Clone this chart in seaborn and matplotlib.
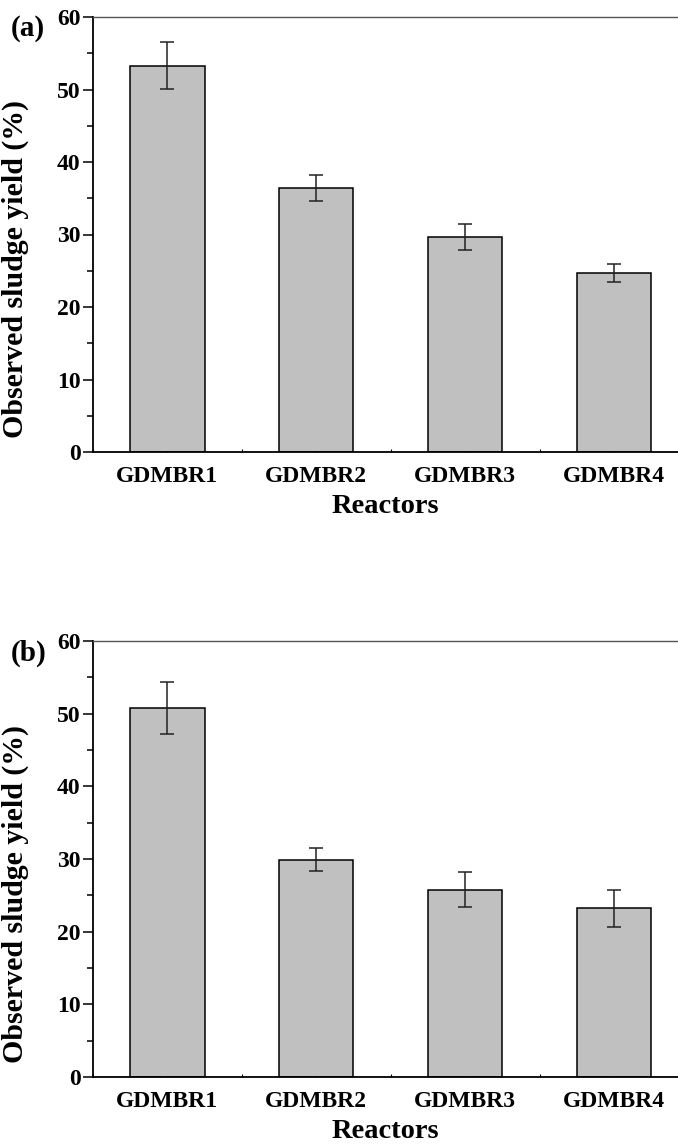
import matplotlib
matplotlib.use("Agg")
import matplotlib.pyplot as plt
import seaborn as sns
import pandas as pd
from matplotlib.ticker import MultipleLocator

reactors = ["GDMBR1", "GDMBR2", "GDMBR3", "GDMBR4"]
yield_a = [53.3, 36.4, 29.6, 24.7]
err_a = [3.2, 1.75, 1.8, 1.3]
yield_b = [50.8, 29.9, 25.8, 23.2]
err_b = [3.6, 1.6, 2.4, 2.5]
panel_labels = ["(a)", "(b)"]
y_ticks = [0, 10, 20, 30, 40, 50, 60]

sns.set_theme(style="ticks")
plt.rcParams["font.family"] = ["Liberation Serif", "DejaVu Serif"]
plt.rcParams["font.weight"] = "bold"
for k in ["text.color", "axes.labelcolor", "xtick.color", "ytick.color"]:
    plt.rcParams[k] = "black"

fig = plt.figure(figsize=(6.78, 11.44), dpi=100)
W, H = 678, 1144
boxes = [(93, 17, 452), (93, 641, 1077)]

for (left, top, bottom), vals, errs, lab in zip(
        boxes, [yield_a, yield_b], [err_a, err_b], panel_labels):
    ax = fig.add_axes([left / W, 1 - bottom / H, (W - left) / W, (bottom - top) / H])
    df = pd.DataFrame({"Reactors": reactors, "Yield": vals})
    sns.barplot(data=df, x="Reactors", y="Yield", color="#c0c0c0",
                saturation=1, width=0.5, edgecolor="black", linewidth=1.1,
                errorbar=None, ax=ax)
    ax.errorbar(range(len(reactors)), vals, yerr=errs, fmt="none",
                ecolor="#222222", elinewidth=1.1, capsize=5, capthick=1.1)
    ax.set_ylim(0, 60)
    ax.set_xlim(-0.5, 3.43)
    ax.set_yticks(y_ticks)
    ax.yaxis.set_minor_locator(MultipleLocator(5))
    ax.xaxis.set_minor_locator(MultipleLocator(0.5))
    ax.tick_params(axis="y", which="major", direction="out", length=7, width=1.1,
                   labelsize=17, pad=2, colors="black")
    ax.tick_params(axis="y", which="minor", direction="out", length=4, width=1.1,
                   colors="black")
    ax.tick_params(axis="x", which="major", direction="in", length=2, width=0.8,
                   labelsize=17, pad=10, colors="black")
    ax.tick_params(axis="x", which="minor", direction="in", length=2, width=0.8,
                   colors="black")
    for t in ax.get_xticklabels() + ax.get_yticklabels():
        t.set_fontweight("bold")
    ax.set_xlabel("Reactors", fontsize=20.5, fontweight="bold", labelpad=5)
    ax.set_ylabel("Observed sludge yield (%)", fontsize=21.5, fontweight="bold")
    ax.yaxis.set_label_coords(-0.11, 0.42)
    for s in ["left", "bottom"]:
        ax.spines[s].set_color("black")
        ax.spines[s].set_linewidth(1.3)
    ax.spines["top"].set_color("#555555")
    ax.spines["top"].set_linewidth(1.0)
    ax.spines["right"].set_visible(False)
    fig.text(11 / W, 1 - (top + 12) / H, lab, fontsize=21, fontweight="bold",
             ha="left", va="center")

fig.savefig("out.png", dpi=100)
